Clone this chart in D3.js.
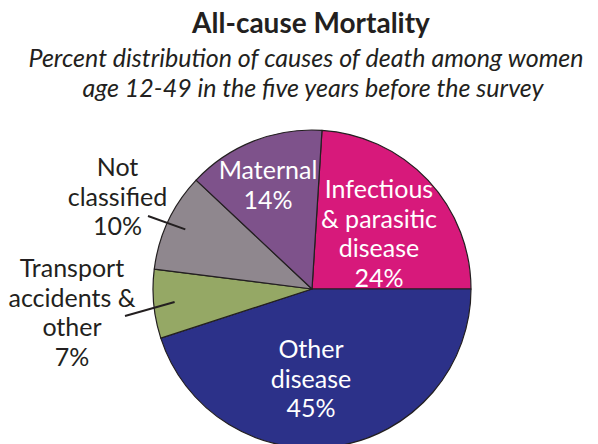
<!DOCTYPE html>
<html>
<head>
<meta charset="utf-8">
<script src="https://cdn.jsdelivr.net/npm/d3@7"></script>
<style>
  html, body { margin: 0; padding: 0; background: #fff; }
  svg { display: block; }
  text { font-family: Lato, "Open Sans", sans-serif; }
</style>
</head>
<body>
<svg id="chart" width="598" height="444"></svg>
<script>
// ---- Data ----
const categories = ["Infectious & parasitic disease", "Other disease", "Transport accidents & other", "Not classified", "Maternal"];
const values = [24, 45, 7, 10, 14];
const labelLines = [
  ["Infectious", "& parasitic", "disease", "24%"],
  ["Other", "disease", "45%"],
  ["Transport", "accidents &", "other", "7%"],
  ["Not", "classified", "10%"],
  ["Maternal", "14%"]
];
const colors = ["#d7197b", "#2c3189", "#95a865", "#8f878e", "#7e528b"];
const titleText = "All-cause Mortality";
const subtitleLines = ["Percent distribution of causes of death among women", "age 12-49 in the five years before the survey"];

// ---- Layout ----
const W = 598, H = 444;
const cx = 312, cy = 289, R = 159;
const startA = 3.6 * Math.PI / 180;
const textColor = "#231f20";

const svg = d3.select("#chart");

svg.append("text")
  .attr("x", 311).attr("y", 33)
  .attr("text-anchor", "middle")
  .attr("font-weight", "bold")
  .attr("font-size", 28)
  .attr("fill", textColor)
  .text(titleText);

svg.selectAll("text.sub").data(subtitleLines).join("text")
  .attr("class", "sub")
  .attr("x", (d, i) => i === 0 ? 306 : 313)
  .attr("y", (d, i) => 67 + i * 30)
  .attr("text-anchor", "middle")
  .attr("font-style", "italic")
  .attr("font-size", 25)
  .attr("fill", textColor)
  .text(d => d);

const pie = d3.pie().sort(null).value(d => d.value)
  .startAngle(startA).endAngle(startA + 2 * Math.PI);
const data = categories.map((c, i) => ({ name: c, value: values[i], lines: labelLines[i], color: colors[i] }));
const arcs = pie(data);
const arc = d3.arc().innerRadius(0).outerRadius(R);

const g = svg.append("g").attr("transform", `translate(${cx},${cy})`);
g.selectAll("path").data(arcs).join("path")
  .attr("d", arc)
  .attr("fill", d => d.data.color)
  .attr("stroke", "#231f20")
  .attr("stroke-width", 1.2)
  .attr("stroke-linejoin", "round");

// label layout: inside labels (white) placed relative to pie centre; outside labels with leaders
const lineH = 29.5;
const fs = 25;
const labelPos = {
  "Infectious & parasitic disease": { x: 379 - cx, y: 198 - cy, inside: true },
  "Other disease": { x: 311 - cx, y: 358 - cy, inside: true },
  "Maternal": { x: 268 - cx, y: 179 - cy, inside: true },
  "Not classified": { x: 117.5 - cx, y: 176 - cy, inside: false, lead: [148 - cx, 216 - cy], leadR: 140 },
  "Transport accidents & other": { x: 72 - cx, y: 277 - cy, inside: false, lead: [125 - cx, 316 - cy], leadR: 138 }
};

arcs.forEach(a => {
  const p = labelPos[a.data.name];
  const t = g.append("text")
    .attr("text-anchor", "middle")
    .attr("font-size", fs)
    .attr("fill", p.inside ? "#ffffff" : textColor);
  a.data.lines.forEach((ln, i) => {
    t.append("tspan").attr("x", p.x).attr("y", p.y + i * lineH).text(ln);
  });
  if (!p.inside) {
    const mid = (a.startAngle + a.endAngle) / 2;
    const ix = p.leadR * Math.sin(mid), iy = -p.leadR * Math.cos(mid);
    g.append("line")
      .attr("x1", p.lead[0]).attr("y1", p.lead[1])
      .attr("x2", ix).attr("y2", iy)
      .attr("stroke", "#231f20").attr("stroke-width", 2);
  }
});
</script>
</body>
</html>
